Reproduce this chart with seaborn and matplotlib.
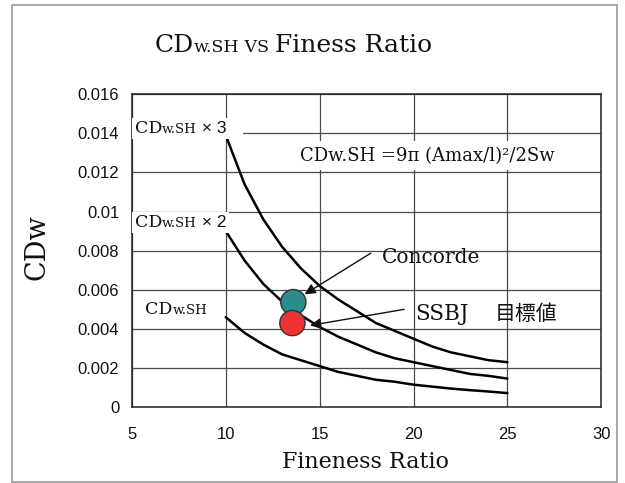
import numpy as np
import pandas as pd
import seaborn as sns
import matplotlib.pyplot as plt
from matplotlib.offsetbox import TextArea, HPacker, AnnotationBbox
from matplotlib.patches import Rectangle

# values
fineness = [10, 11, 12, 13, 14, 15, 16, 17, 18, 19, 20, 21, 22, 23, 24, 25]
cdw_sh = [0.0046, 0.0038, 0.0032, 0.0027, 0.0024, 0.0021, 0.0018, 0.0016,
          0.0014, 0.0013, 0.00115, 0.00105, 0.00095, 0.00087, 0.0008, 0.00072]
cdw_sh_x2 = [0.0090, 0.0075, 0.0063, 0.0054, 0.0047, 0.0041, 0.0036, 0.0032,
             0.0028, 0.0025, 0.0023, 0.0021, 0.0019, 0.0017, 0.0016, 0.00146]
cdw_sh_x3 = [0.0139, 0.0114, 0.0096, 0.0082, 0.0071, 0.0062, 0.0055, 0.0049,
             0.0043, 0.0039, 0.0035, 0.0031, 0.0028, 0.0026, 0.0024, 0.0023]

aircraft = ["Concorde", "SSBJ"]
aircraft_fr = [13.6, 13.55]
aircraft_cdw = [0.00537, 0.0043]

x_ticks = [5, 10, 15, 20, 25, 30]
y_ticks = [0, 0.002, 0.004, 0.006, 0.008, 0.01, 0.012, 0.014, 0.016]
y_ticklabels = ["0", "0.002", "0.004", "0.006", "0.008", "0.01", "0.012",
                "0.014", "0.016"]

curves = pd.DataFrame({
    "fineness": fineness * 3,
    "cdw": cdw_sh + cdw_sh_x2 + cdw_sh_x3,
    "curve": ["x1"] * len(fineness) + ["x2"] * len(fineness) + ["x3"] * len(fineness),
})
points = pd.DataFrame({"fineness": aircraft_fr, "cdw": aircraft_cdw, "name": aircraft})

sns.set_theme(style="white")
plt.rcParams["font.family"] = ["DejaVu Serif", "Noto Sans CJK JP"]
SANS = ["Liberation Sans", "DejaVu Sans"]
SERIF = ["DejaVu Serif"]

fig = plt.figure(figsize=(6.25, 4.83), dpi=100)
ax = fig.add_axes([0.211, 0.157, 0.751, 0.648])

sns.lineplot(data=curves, x="fineness", y="cdw", units="curve", estimator=None,
             color="black", lw=1.8, ax=ax, zorder=3)
sns.scatterplot(data=points, x="fineness", y="cdw", hue="name",
                palette=["#2a8c8c", "#f03232"], s=330, edgecolor="#333333",
                linewidth=1, legend=False, ax=ax, zorder=5)

ax.set_xlim(5, 30)
ax.set_ylim(0, 0.016)
ax.set_xticks(x_ticks)
ax.set_yticks(y_ticks)
ax.set_xticklabels([str(t) for t in x_ticks], family=SANS, fontsize=12)
ax.set_yticklabels(y_ticklabels, family=SANS, fontsize=12)
ax.tick_params(axis="x", length=0, pad=14, colors="#111111")
ax.tick_params(axis="y", length=0, pad=9, colors="#111111")
ax.grid(True, color="#4a4a4a", lw=0.9)
ax.set_axisbelow(True)
for sp in ax.spines.values():
    sp.set_color("#222222")
    sp.set_linewidth(1.1)
ax.set_xlabel("")
ax.set_ylabel("")


def rich(pieces, xy, coords, align=(0, 0.5), bg=False):
    areas = []
    for txt, size, fam in pieces:
        areas.append(TextArea(txt, textprops=dict(fontsize=size, family=fam,
                                                  color="#111111")))
    pack = HPacker(children=areas, align="baseline", pad=0, sep=0)
    ab = AnnotationBbox(pack, xy, xycoords=coords, box_alignment=align,
                        frameon=bg, pad=0.15, zorder=6,
                        bboxprops=dict(facecolor="white", edgecolor="none"))
    (ax if coords == "data" else fig).add_artist(ab)


# title
rich([("CD", 18, SERIF), ("w.SH", 12.5, SERIF), (" VS ", 12.5, SERIF),
      ("Finess Ratio", 18, SERIF)],
     (293 / 625, 1 - 45 / 483), "figure fraction", align=(0.5, 0.5))

# curve labels
rich([("CD", 12.5, SERIF), ("w.SH", 9.5, SERIF), (" × 3   ", 12.5, SANS)],
     (5.15, 0.01425), "data", bg=True)
rich([("CD", 12.5, SERIF), ("w.SH", 9.5, SERIF), (" × 2", 12.5, SANS)],
     (5.15, 0.00944), "data", bg=True)
rich([("CD", 12.5, SERIF), ("w.SH", 9.5, SERIF)],
     (5.7, 0.00500), "data", bg=True)

ax.text(13.95, 0.01285, "CDw.SH =9π (Amax/l)²/2Sw", fontsize=13, va="center",
        ha="left", color="#111111", zorder=6,
        bbox=dict(facecolor="white", edgecolor="none", pad=4))

# annotations
arrow = dict(arrowstyle="-|>", color="#111111", lw=1, mutation_scale=16,
             shrinkA=0, shrinkB=0)
ax.annotate("", xy=(14.2, 0.00577), xytext=(17.72, 0.00787),
            arrowprops=arrow, zorder=6)
ax.annotate("", xy=(14.49, 0.00418), xytext=(19.5, 0.0050),
            arrowprops=arrow, zorder=6)
ax.text(18.34, 0.00767, "Concorde", fontsize=14.5, va="center", ha="left",
        color="#111111")
ax.text(20.08, 0.00478, "SSBJ", fontsize=15.5, va="center", ha="left",
        color="#111111")
ax.text(24.35, 0.00478, "目標値", fontsize=15, va="center", ha="left",
        family=["Noto Sans CJK JP", "DejaVu Sans"], color="#111111")

fig.text(366 / 625, 1 - 462 / 483, "Fineness Ratio", fontsize=16, ha="center",
         va="center", color="#111111")
fig.text(37 / 625, 1 - 247 / 483, "CDw", fontsize=19.5, ha="center",
         va="center", rotation=90, color="#111111")

fig.patches.append(Rectangle((12 / 625, 0.002), 605 / 625, 1 - 5 / 483 - 0.002,
                             transform=fig.transFigure, fill=False,
                             edgecolor="#9a9a9a", lw=1.2))

fig.savefig("out.png", dpi=100)
